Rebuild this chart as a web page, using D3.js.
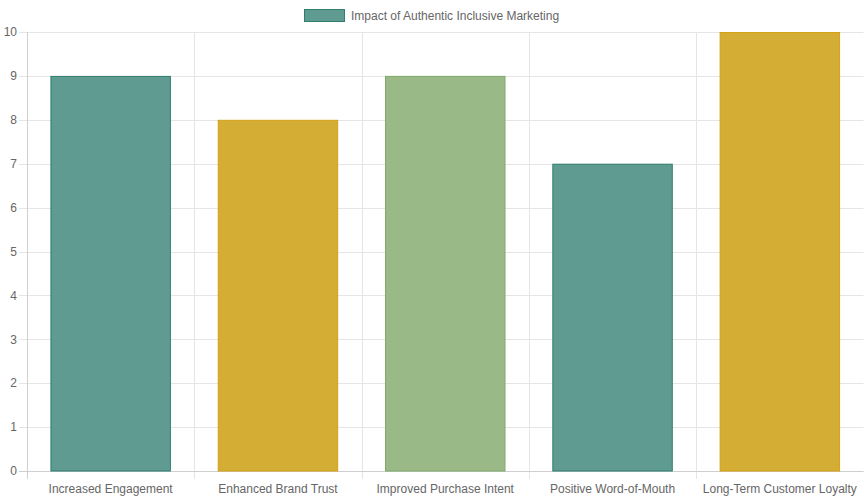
<!DOCTYPE html>
<html><head><meta charset="utf-8">
<script src="https://cdn.jsdelivr.net/npm/d3@7"></script>
<style>body{margin:0;background:#fff}svg{display:block}text{font-family:"Liberation Sans",Arial,sans-serif}</style>
</head><body><svg id="c" width="864" height="500"></svg>
<script>
const categories = ["Increased Engagement","Enhanced Brand Trust","Improved Purchase Intent","Positive Word-of-Mouth","Long-Term Customer Loyalty"];
const values = [9, 8, 9, 7, 10];
const yTicks = [0,1,2,3,4,5,6,7,8,9,10];
const seriesName = "Impact of Authentic Inclusive Marketing";
const fills = ["#5f9b91","#d4ad35","#99b987","#5f9b91","#d4ad35"];
const strokes = ["#2e7d6e","#d4a017","#7fa86a","#2e7d6e","#d4a017"];

const svg = d3.select("#c");
const L = 27, R = 863.5, T = 32, B = 471;
const x = d3.scaleBand().domain(categories).range([L, R]).paddingInner(0).paddingOuter(0);
const y = d3.scaleLinear().domain([0, 10]).range([B, T]);
const grid = "#e5e5e5";

// horizontal grid
svg.append("g").selectAll("line").data(yTicks).join("line")
  .attr("x1", L - 8).attr("x2", R).attr("y1", d => Math.round(y(d)) + 0.5).attr("y2", d => Math.round(y(d)) + 0.5)
  .attr("stroke", grid);
// vertical grid at category boundaries
const bounds = categories.map(c => x(c)).concat([R]);
svg.append("g").selectAll("line").data(bounds).join("line")
  .attr("x1", d => Math.round(d) + 0.5).attr("x2", d => Math.round(d) + 0.5)
  .attr("y1", T).attr("y2", B + 8).attr("stroke", grid);
// axis lines
svg.append("line").attr("x1", L + 0.5).attr("x2", L + 0.5).attr("y1", T).attr("y2", B + 8).attr("stroke", "#cfcfcf");
svg.append("line").attr("x1", L - 8).attr("x2", R).attr("y1", B + 0.5).attr("y2", B + 0.5).attr("stroke", "#cfcfcf");

// y labels
svg.append("g").selectAll("text").data(yTicks).join("text")
  .attr("x", 17).attr("y", d => y(d)).attr("dy", "0.35em").attr("text-anchor", "end")
  .attr("font-size", 12).attr("fill", "#666").text(d => d);

// bars
const bw = x.bandwidth() * 0.72;
svg.append("g").selectAll("rect").data(values).join("rect")
  .attr("x", (d, i) => x(categories[i]) + (x.bandwidth() - bw) / 2 + 0.5)
  .attr("y", d => y(d) + 0.5)
  .attr("width", bw - 1)
  .attr("height", d => B - y(d) - 0.5)
  .attr("fill", (d, i) => fills[i])
  .attr("stroke", (d, i) => strokes[i]).attr("stroke-width", 1);

// x labels
svg.append("g").selectAll("text").data(categories).join("text")
  .attr("x", d => x(d) + x.bandwidth() / 2).attr("y", 493).attr("text-anchor", "middle")
  .attr("font-size", 12).attr("fill", "#666").text(d => d);

// legend
svg.append("rect").attr("x", 304.5).attr("y", 9.5).attr("width", 40).attr("height", 12)
  .attr("fill", fills[0]).attr("stroke", strokes[0]);
svg.append("text").attr("x", 351).attr("y", 19.5).attr("font-size", 12).attr("fill", "#666").text(seriesName);
</script></body></html>
